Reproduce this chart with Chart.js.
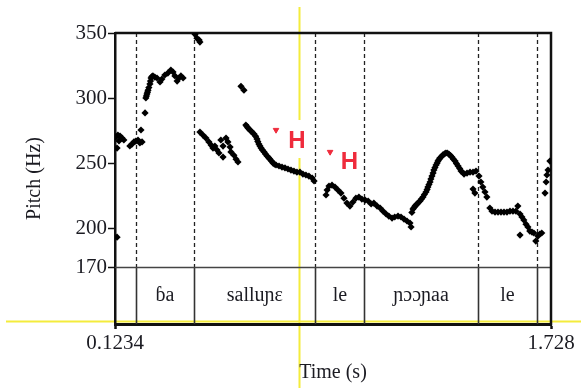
<!DOCTYPE html>
<html>
<head>
<meta charset="utf-8">
<script src="https://cdn.jsdelivr.net/npm/chart.js@4.4.1/dist/chart.umd.min.js"></script>
<style>
    html, body { margin: 0; padding: 0; background: #fff; }
    #wrap { width: 581px; height: 388px; position: relative; }
</style>
</head>
<body>
<div id="wrap"><canvas id="pitchChart"></canvas></div>
<script>
// Pitch track (time s, F0 Hz)
const pitchTrack = [
    [0.127, 270], [0.131, 261.5], [0.134, 271.5], [0.138, 267], [0.142, 270.8], [0.149, 269.2], [0.156, 267.7],
    [0.131, 193],
    [0.178, 263.1], [0.186, 264.6], [0.193, 266.2], [0.200, 266.9], [0.208, 267.7], [0.215, 265.4], [0.223, 266.2],
    [0.219, 275.4], [0.234, 288.5],
    [0.237, 300], [0.239, 301.5], [0.241, 303], [0.243, 304.5], [0.245, 306], [0.248, 308], [0.252, 310.8],
    [0.254, 313], [0.256, 315.4], [0.259, 316.5], [0.263, 317], [0.270, 316],
    [0.278, 315.4], [0.289, 312.3], [0.296, 314.6], [0.307, 317.7], [0.318, 319.2], [0.329, 321.5], [0.337, 320],
    [0.344, 317], [0.352, 313], [0.359, 315.4], [0.366, 317], [0.374, 315.4],
    [0.418, 349], [0.425, 346], [0.433, 344.6], [0.436, 343],
    [0.436, 273.8], [0.447, 271.5], [0.458, 269.2], [0.469, 266.2], [0.477, 263.8], [0.484, 261.5], [0.491, 263],
    [0.499, 260], [0.506, 257.7], [0.513, 267.7], [0.521, 263], [0.521, 254.6], [0.532, 269.2], [0.539, 266.2],
    [0.547, 262.3], [0.550, 258.5], [0.561, 256], [0.569, 253], [0.576, 250.8],
    [0.587, 309], [0.598, 306],
    [0.605, 279.2], [0.609, 278], [0.613, 276.9], [0.618, 275.8], [0.624, 274.6], [0.629, 273.5], [0.635, 272.3],
    [0.641, 270.5], [0.646, 268.5], [0.649, 266.5], [0.653, 264.6], [0.657, 263], [0.661, 261.5], [0.666, 260],
    [0.672, 258.5], [0.677, 257], [0.683, 255.4], [0.688, 254.2], [0.694, 253], [0.699, 251.5], [0.705, 250],
    [0.710, 249.2], [0.716, 248.5], [0.727, 247.7], [0.738, 246.9],
    [0.749, 246.2], [0.760, 245.4], [0.771, 244.6], [0.782, 243.8], [0.793, 243], [0.804, 243], [0.815, 241.5],
    [0.826, 240.8], [0.837, 240], [0.849, 238.5], [0.856, 236.2],
    [0.900, 225.4], [0.904, 229.2], [0.911, 232.3], [0.922, 233], [0.933, 231.5], [0.944, 229.2], [0.955, 226.9],
    [0.966, 223], [0.977, 219.2], [0.988, 216.9], [0.999, 220], [1.010, 223], [1.021, 223.8], [1.032, 222.3],
    [1.044, 221.5], [1.055, 220.8], [1.066, 218.5], [1.076, 219.2], [1.088, 216.9], [1.099, 215.4], [1.110, 213],
    [1.121, 210.8], [1.131, 209.2], [1.143, 207.7], [1.153, 208.5], [1.165, 209.2], [1.176, 208.5], [1.187, 206.9],
    [1.198, 205.4], [1.209, 203.8], [1.213, 200.8], [1.216, 212], [1.220, 214.6], [1.224, 215.8], [1.228, 216.9],
    [1.231, 217.7], [1.235, 218.5], [1.240, 219.6], [1.246, 220.8], [1.251, 222.3],
    [1.257, 223.8], [1.262, 225.8], [1.268, 227.7], [1.272, 229.6], [1.275, 231.5], [1.279, 233.5], [1.283, 235.4],
    [1.286, 237.7], [1.290, 240], [1.294, 242.3], [1.297, 244.6], [1.301, 246.5], [1.305, 248.5], [1.309, 250],
    [1.312, 251.5], [1.316, 252.7], [1.319, 253.8], [1.325, 255], [1.330, 256.2], [1.336, 257], [1.341, 257.7],
    [1.346, 257.7], [1.352, 256.9], [1.358, 255.8], [1.363, 254.6], [1.369, 253], [1.375, 251.5], [1.380, 249.6],
    [1.386, 247.7], [1.392, 245.8], [1.397, 243.8], [1.403, 242.7], [1.408, 241.5], [1.419, 242.3], [1.430, 243],
    [1.441, 243], [1.452, 243.8],
    [1.463, 240], [1.470, 235.4], [1.477, 231.5], [1.485, 227.7], [1.492, 223.8], [1.441, 230], [1.448, 226.9],
    [1.503, 215.4], [1.511, 213], [1.522, 212.3], [1.533, 212.3], [1.544, 212.3], [1.555, 212.3], [1.566, 212.3],
    [1.577, 213], [1.588, 213], [1.599, 213], [1.606, 216.9], [1.614, 210.8], [1.621, 208.5], [1.628, 206.2],
    [1.636, 203], [1.643, 200.8], [1.650, 197.7], [1.614, 194.6], [1.658, 196.9], [1.665, 196.2], [1.672, 190],
    [1.680, 193.8], [1.687, 195.4], [1.694, 196.2],
    [1.706, 226.9], [1.710, 235.4], [1.713, 240.8], [1.717, 244.6], [1.724, 251.5]
];

// Tone marks (H targets)
const toneTimes = [0.716, 0.915];
const toneHz = [275.4, 258.5];
const toneLabels = ['H', 'H'];
const toneLabelTimes = [0.793, 0.986];
const toneLabelHz = [267.7, 251.5];

// Syllable tier
const tierBounds = [0.200, 0.415, 0.861, 1.041, 1.459, 1.676];
const tierStarts = [0.200, 0.415, 0.861, 1.041, 1.459];
const tierEnds = [0.415, 0.861, 1.041, 1.459, 1.676];
const tierLabels = ['ɓa', 'salluɲɛ', 'le', 'ɲɔɔɲaa', 'le'];

// Axes
const xTicks = [0.1234, 1.728];
const xTickLabels = ['0.1234', '1.728'];
const yTicks = [170, 200, 250, 300, 350];
const pitchFloor = 170;
const tierBottomHz = 126.2;

// Cursor (yellow)
const cursorTime = 0.802;
const cursorHz = 128.5;

const SERIF = "'Liberation Serif', 'Times New Roman', serif";
const INK = '#1b1b22';
const RED = '#ef2b3c';
const YELLOW = '#f4ec3c';

const praatPlugin = {
    id: 'praat',
    beforeDraw(chart) {
        const { ctx, scales: { x, y } } = chart;
        const cx = Math.round(x.getPixelForValue(cursorTime)) + 0.5;
        const cy = Math.round(y.getPixelForValue(cursorHz)) + 0.5;
        ctx.save();
        ctx.strokeStyle = YELLOW;
        ctx.lineWidth = 2;
        ctx.beginPath();
        ctx.moveTo(cx, 7);
        ctx.lineTo(cx, chart.height);
        ctx.moveTo(6, cy);
        ctx.lineTo(chart.width, cy);
        ctx.stroke();
        ctx.restore();
    },
    beforeDatasetsDraw(chart) {
        const { ctx, chartArea: a, scales: { x, y } } = chart;
        const floorY = y.getPixelForValue(pitchFloor);
        ctx.save();

        // boundaries: dashed in the pitch pane, solid in the tier
        tierBounds.forEach(t => {
            const px = Math.round(x.getPixelForValue(t)) + 0.5;
            ctx.strokeStyle = '#222';
            ctx.lineWidth = 1.3;
            ctx.setLineDash([4, 3]);
            ctx.beginPath();
            ctx.moveTo(px, a.top);
            ctx.lineTo(px, floorY);
            ctx.stroke();
            ctx.setLineDash([]);
            ctx.lineWidth = 1.6;
            ctx.strokeStyle = '#333';
            ctx.beginPath();
            ctx.moveTo(px, floorY);
            ctx.lineTo(px, a.bottom);
            ctx.stroke();
        });

        // 170 Hz separator
        ctx.strokeStyle = '#444';
        ctx.lineWidth = 1.3;
        ctx.beginPath();
        ctx.moveTo(a.left, Math.round(floorY) + 0.5);
        ctx.lineTo(a.right, Math.round(floorY) + 0.5);
        ctx.stroke();

        // top and right frame
        ctx.strokeStyle = '#111';
        ctx.lineWidth = 2.5;
        ctx.beginPath();
        ctx.moveTo(a.left, a.top);
        ctx.lineTo(a.right, a.top);
        ctx.lineTo(a.right, a.bottom + 1.5);
        ctx.stroke();

        // tier labels
        ctx.fillStyle = INK;
        ctx.font = '20px ' + SERIF;
        ctx.textAlign = 'center';
        ctx.textBaseline = 'middle';
        const midY = (floorY + a.bottom) / 2;
        tierLabels.forEach((lab, i) => {
            const px = (x.getPixelForValue(tierStarts[i]) + x.getPixelForValue(tierEnds[i])) / 2;
            ctx.fillText(lab, px, midY);
        });
        ctx.restore();
    },
    afterDatasetsDraw(chart) {
        const { ctx, scales: { x, y } } = chart;
        ctx.save();
        ctx.font = 'bold 24px "Liberation Sans", Arial, sans-serif';
        ctx.textAlign = 'center';
        ctx.textBaseline = 'middle';
        toneLabels.forEach((lab, i) => {
            const px = x.getPixelForValue(toneLabelTimes[i]);
            const py = y.getPixelForValue(toneLabelHz[i]);
            ctx.fillStyle = '#fff';
            ctx.fillRect(px - 9, py - 20, 18, 38);
            ctx.fillStyle = RED;
            ctx.fillText(lab, px, py + 1);
        });
        ctx.restore();
    }
};

function initPitchChart() {
    const ctx = document.getElementById('pitchChart');

    new Chart(ctx, {
        type: 'scatter',
        data: {
            datasets: [{
                label: 'Pitch',
                data: pitchTrack.map(p => ({ x: p[0], y: p[1] })),
                pointStyle: 'rectRot',
                pointRadius: 3.6,
                pointBackgroundColor: '#000',
                pointBorderColor: '#000',
                pointBorderWidth: 0,
                showLine: false
            }, {
                label: 'Tone marks',
                data: toneTimes.map((t, i) => ({ x: t, y: toneHz[i] })),
                pointStyle: 'triangle',
                rotation: 180,
                pointRadius: 3.2,
                pointBackgroundColor: RED,
                pointBorderColor: RED,
                pointBorderWidth: 1,
                showLine: false
            }]
        },
        options: {
            responsive: true,
            maintainAspectRatio: false,
            animation: false,
            layout: { padding: { top: 33, right: 30, left: 0, bottom: 0 } },
            plugins: {
                legend: { display: false },
                tooltip: { enabled: false }
            },
            scales: {
                x: {
                    type: 'linear',
                    min: xTicks[0],
                    max: xTicks[1],
                    afterBuildTicks: s => { s.ticks = xTicks.map(v => ({ value: v })); },
                    afterFit: s => { s.height = 64; },
                    ticks: {
                        autoSkip: false,
                        maxRotation: 0,
                        padding: 2,
                        color: INK,
                        font: { family: SERIF, size: 21 },
                        callback: (v, i) => xTickLabels[i]
                    },
                    grid: { drawOnChartArea: false, tickLength: 5, tickColor: '#111', tickWidth: 2.5 },
                    border: { display: true, color: '#111', width: 3 },
                    title: {
                        display: true,
                        text: 'Time (s)',
                        color: INK,
                        font: { family: SERIF, size: 20 },
                        padding: { top: 0, bottom: 3 }
                    }
                },
                y: {
                    type: 'linear',
                    min: tierBottomHz,
                    max: 350,
                    afterBuildTicks: s => { s.ticks = yTicks.map(v => ({ value: v })); },
                    afterFit: s => { s.width = 115; },
                    ticks: {
                        padding: 1,
                        color: INK,
                        font: { family: SERIF, size: 21 },
                        callback: v => String(v)
                    },
                    grid: { drawOnChartArea: false, tickLength: 7, tickColor: '#111', tickWidth: 1.5 },
                    border: { display: true, color: '#111', width: 2.5 },
                    title: {
                        display: true,
                        text: 'Pitch (Hz)',
                        color: INK,
                        font: { family: SERIF, size: 20 },
                        padding: { top: 23, bottom: 4 }
                    }
                }
            }
        },
        plugins: [praatPlugin]
    });
}

document.addEventListener('DOMContentLoaded', initPitchChart);
</script>
</body>
</html>
